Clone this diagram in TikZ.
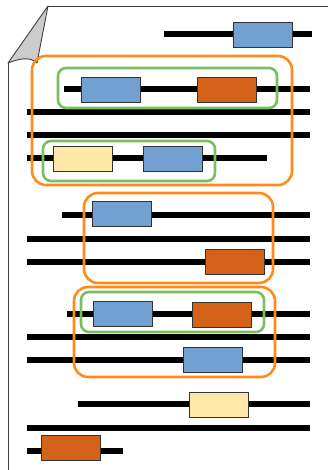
\documentclass[tikz,border=0pt]{standalone}
\usepackage{tikz}
\definecolor{cblue}{RGB}{114,160,208}
\definecolor{corange}{RGB}{212,98,25}
\definecolor{cyellow}{RGB}{254,232,168}
\definecolor{cframeO}{RGB}{255,140,26}
\definecolor{cframeG}{RGB}{122,190,100}
\definecolor{cfold}{RGB}{204,204,204}
\tikzset{
  track/.style={line width=5.5pt},
  box/.style={draw=black!80, line width=0.8pt, minimum width=59pt, minimum height=25pt, inner sep=0pt},
  bluebox/.style={box, fill=cblue},
  orangebox/.style={box, fill=corange},
  yellowbox/.style={box, fill=cyellow},
  oframe/.style={draw=cframeO, line width=2.6pt, rounded corners=14pt},
  gframe/.style={draw=cframeG, line width=2.6pt, rounded corners=8pt},
  pageedge/.style={draw=black!75, line width=0.9pt},
}
\begin{document}
\begin{tikzpicture}[x=1pt,y=-1pt]
\useasboundingbox (0,0) rectangle (328,470);
% page
\coordinate (pt1) at (48,6);
\coordinate (pt2) at (330,6);
\coordinate (pl1) at (8,63);
\coordinate (pl2) at (8,472);
\draw[pageedge] (pt1) -- (pt2);
\draw[pageedge] (pl1) -- (pl2);
\draw[pageedge, fill=cfold, line join=round] (pt1) -- (pl1) .. controls (18,59) and (30,56) .. (37,63) -- cycle;
% tracks
\foreach \n/\xa/\xb/\y in {1/164/312/34, 2/64/310/89, 3/27/310/112, 4/27/310/135, 5/27/267/158,
  6/62/310/215, 7/27/310/239, 8/27/310/262, 9/67/310/314, 10/27/310/337, 11/27/310/360,
  12/78/310/404, 13/27/310/428, 14/27/123/451}{
  \coordinate (a\n) at (\xa,\y);
  \coordinate (b\n) at (\xb,\y);
  \draw[track] (a\n) -- (b\n);
}
% boxes
\node[bluebox] (r1b) at (263,35) {};
\node[bluebox] (r2b) at (110.5,89.5) {};
\node[orangebox] (r2o) at (226.5,89.5) {};
\node[yellowbox] (r5y) at (82.5,159) {};
\node[bluebox] (r5b) at (173,159) {};
\node[bluebox] (r6b) at (122,213.5) {};
\node[orangebox] (r8o) at (235,262) {};
\node[bluebox] (r9b) at (122.5,314) {};
\node[orangebox] (r9o) at (221.5,315) {};
\node[bluebox] (r11b) at (212.5,360) {};
\node[yellowbox] (r12y) at (219,404.5) {};
\node[orangebox] (r14o) at (71,448) {};
% frames
\draw[oframe] (32,56) rectangle (292,185);
\draw[gframe] (58,68) rectangle (277,108);
\draw[gframe] (43,141) rectangle (215,181);
\draw[oframe] (84,193) rectangle (273,283);
\draw[oframe] (74,287) rectangle (275,377);
\draw[gframe] (81,292) rectangle (264,332);
\end{tikzpicture}
\end{document}
